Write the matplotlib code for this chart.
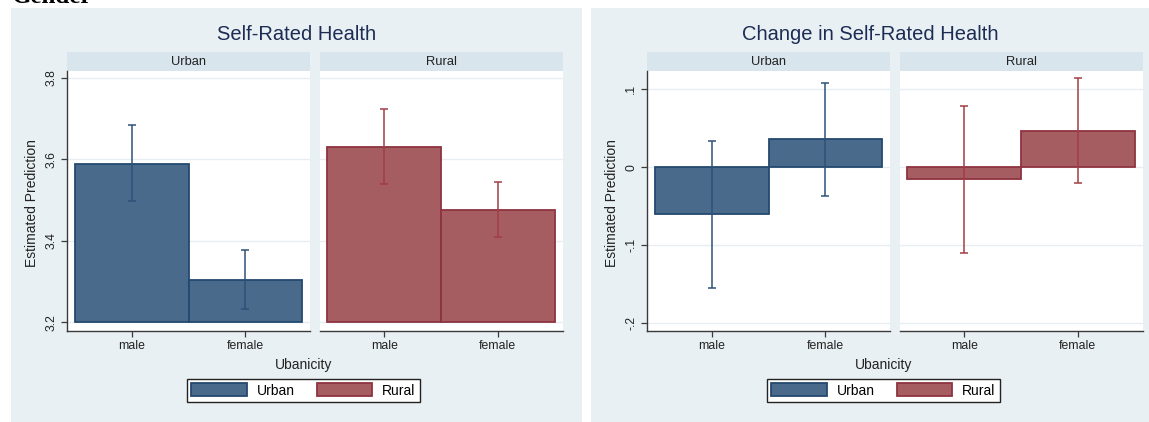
import matplotlib
matplotlib.use("Agg")
import matplotlib.pyplot as plt
from matplotlib.patches import Rectangle, Patch

W, H = 1149, 422

sexes = ["male", "female"]
areas = ["Urban", "Rural"]

# self-rated health: predictions with confidence limits
srh_urban = [3.590, 3.305]
srh_urban_lo = [3.497, 3.234]
srh_urban_hi = [3.684, 3.379]
srh_rural = [3.631, 3.476]
srh_rural_lo = [3.539, 3.411]
srh_rural_hi = [3.725, 3.544]

# change in self-rated health
chg_urban = [-0.060, 0.036]
chg_urban_lo = [-0.155, -0.037]
chg_urban_hi = [0.034, 0.108]
chg_rural = [-0.015, 0.046]
chg_rural_lo = [-0.110, -0.021]
chg_rural_hi = [0.078, 0.114]

srh_ticks = [3.2, 3.4, 3.6, 3.8]
srh_ticklabels = ["3.2", "3.4", "3.6", "3.8"]
chg_ticks = [-0.2, -0.1, 0.0, 0.1]
chg_ticklabels = ["-.2", "-.1", "0", ".1"]

plt.rcParams["font.family"] = ["Liberation Sans", "DejaVu Sans"]

BG = "#e9f0f3"
STRIP = "#d9e5ec"
GRID = "#e6eef1"
AXIS = "#3a3a3a"
TITLE = "#1c2c54"
fills = {"Urban": "#4a6a8b", "Rural": "#a55d61"}
edges = {"Urban": "#24496f", "Rural": "#8e3340"}
bars_err = {"Urban": "#2d5278", "Rural": "#a33d47"}

fig = plt.figure(figsize=(W / 100, H / 100), dpi=100)
fig.patch.set_facecolor("white")


def box(x0, y0, x1, y1):
    return [x0 / W, 1 - y1 / H, (x1 - x0) / W, (y1 - y0) / H]


def fig_rect(x0, y0, x1, y1, color):
    fig.patches.append(Rectangle((x0 / W, 1 - y1 / H), (x1 - x0) / W, (y1 - y0) / H,
                                 transform=fig.transFigure, facecolor=color,
                                 edgecolor="none", zorder=-5))


def panel(x0, x1, area, vals, lo, hi, base, ylim, ticks, ticklabels, first):
    fig_rect(x0, 52, x1, 71, STRIP)
    fig.text((x0 + x1) / 2 / W, 1 - 62 / H, area, ha="center", va="center",
             fontsize=9.3, color="#222222")
    ax = fig.add_axes(box(x0, 71, x1, 330.5))
    ax.set_facecolor("white")
    pos = list(range(len(sexes)))
    heights = [v - base for v in vals]
    ax.bar(pos, heights, bottom=base, width=1.0, color=fills[area],
           edgecolor=edges[area], linewidth=1.3, zorder=2)
    err = [[v - l for v, l in zip(vals, lo)], [h - v for v, h in zip(vals, hi)]]
    ax.errorbar(pos, vals, yerr=err, fmt="none", ecolor=bars_err[area],
                elinewidth=1.1, capsize=3.2, capthick=1.1, zorder=3)
    ax.set_xlim(-0.57, 1.57)
    ax.set_ylim(*ylim)
    ax.set_yticks(ticks)
    ax.yaxis.grid(True, color=GRID, linewidth=1.0, zorder=0)
    ax.set_axisbelow(True)
    for s in ["top", "right"]:
        ax.spines[s].set_visible(False)
    ax.spines["bottom"].set_color(AXIS)
    ax.spines["bottom"].set_linewidth(1.0)
    ax.set_xticks(pos)
    ax.set_xticklabels(sexes, fontsize=8.8, color="#222222")
    ax.tick_params(axis="x", direction="out", length=4, width=0.9, color=AXIS, pad=2.5)
    if first:
        ax.spines["left"].set_color(AXIS)
        ax.spines["left"].set_linewidth(1.0)
        ax.set_yticklabels(ticklabels, rotation=90, va="center", fontsize=8.8,
                           color="#222222")
        ax.tick_params(axis="y", direction="out", length=4, width=0.9, color=AXIS, pad=3)
    else:
        ax.spines["left"].set_visible(False)
        ax.tick_params(axis="y", length=0, labelleft=False)
    return ax


def graph(x0, x1, title, offset, data, base, ylim, ticks, ticklabels):
    fig_rect(x0, 8, x1, H, BG)
    cx = (x0 + x1) / 2
    fig.text(cx / W, 1 - 34 / H, title, ha="center", va="center",
             fontsize=14.5, color=TITLE)
    for i, area in enumerate(areas):
        vals, lo, hi = data[area]
        px0 = offset + i * 252.5
        panel(px0, px0 + 243, area, vals, lo, hi, base, ylim, ticks, ticklabels, i == 0)
    fig.text((offset - 35) / W, 1 - 203 / H, "Estimated Prediction", rotation=90,
             ha="center", va="center", fontsize=10, color="#222222")
    fig.text((offset + 236.5) / W, 1 - 364.5 / H, "Ubanicity", ha="center",
             va="center", fontsize=10, color="#222222")
    handles = [Patch(facecolor=fills[a], edgecolor=edges[a], linewidth=1.3) for a in areas]
    leg = fig.legend(handles, areas, loc="center", ncol=2,
                     bbox_to_anchor=((offset + 236.5) / W, 1 - 390.5 / H),
                     fontsize=10, frameon=True, fancybox=False, framealpha=1,
                     edgecolor="#222222", handlelength=4.0, handleheight=1.05,
                     handletextpad=0.7, columnspacing=1.6, borderpad=0.35,
                     borderaxespad=0)
    leg.get_frame().set_linewidth(1.0)


graph(11, 582, "Self-Rated Health", 67,
      {"Urban": (srh_urban, srh_urban_lo, srh_urban_hi),
       "Rural": (srh_rural, srh_rural_lo, srh_rural_hi)},
      3.2, (3.1803, 3.8172), srh_ticks, srh_ticklabels)

graph(591, 1149, "Change in Self-Rated Health", 647,
      {"Urban": (chg_urban, chg_urban_lo, chg_urban_hi),
       "Rural": (chg_rural, chg_rural_lo, chg_rural_hi)},
      0.0, (-0.2099, 0.1235), chg_ticks, chg_ticklabels)

# section heading sitting just above the figure edge
fig.text(12 / W, 1 - 3 / H, "Gender", ha="left", va="baseline",
         fontsize=18, fontweight="bold", family="Liberation Serif", color="black")

fig.savefig("out.png", dpi=100)
